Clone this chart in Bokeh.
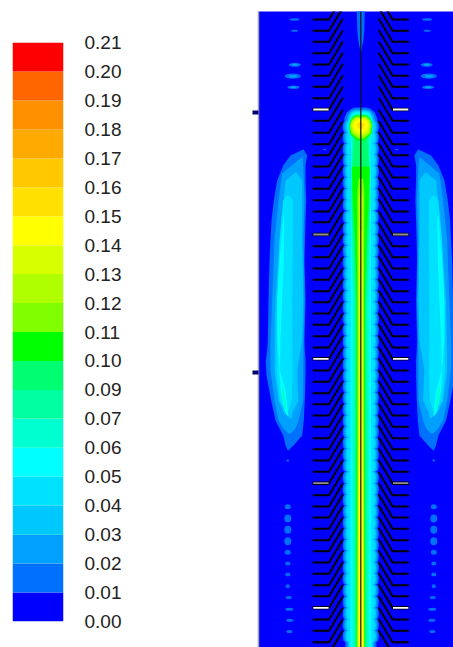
from bokeh.plotting import figure
from bokeh.layouts import row
from bokeh.models import FixedTicker, Range1d
from bokeh.embed import file_html
from bokeh.resources import INLINE

# ---- colour bar ----
band_colors = ["#0000ff", "#0070ff", "#00a0ff", "#00c8ff", "#00e0ff", "#00ffff", "#00ffd0",
               "#00ffa0", "#00ff70", "#00ff00", "#80ff00", "#b0ff00", "#d8ff00", "#ffff00",
               "#ffe000", "#ffc800", "#ffaa00", "#ff9000", "#ff6600", "#ff0000"]
band_labels = ["0.00", "0.01", "0.02", "0.03", "0.04", "0.05", "0.06", "0.07", "0.09", "0.10",
               "0.11", "0.12", "0.13", "0.14", "0.15", "0.16", "0.17", "0.18", "0.19", "0.20", "0.21"]

# ---- structure rows (axial position of each fin) ----
fin_rows = [8, 19, 30.3, 41.3, 52.7, 64, 75.3, 86.3, 97.7, 109, 120.3, 132.3, 143.7, 154.7, 166, 177,
            188.3, 199.7, 211, 221.7, 234, 245.7, 256.7, 268, 279.3, 290.7, 301.7, 313, 324.3,
            335.7, 347, 358.3, 370, 381.3, 392.7, 403.7, 415, 426.3, 437.7, 448.7, 460, 471.3,
            482.7, 494.7, 506, 517, 528.3, 539.7, 550.7, 562, 573.3, 584.7, 595.7, 607.3, 619,
            630.3, 641.7, 653]
white_rows = [109, 358.3, 607.3]
gray_rows = [234, 482.7]
marker_ticks = [112.3, 371.7]

# ---- central plume: (axial position, half width) for each contour level ----
plume_y = {
    1: [107, 108, 112, 118, 135, 160, 650],
    2: [109, 110, 114, 120, 160, 650],
    3: [110, 111, 116, 122, 160, 650],
    4: [111, 112, 118, 124, 160, 650],
    5: [112, 114, 119, 126, 150, 200, 650],
    6: [113, 115, 120, 130, 145, 180, 300, 650],
    7: [114, 116, 120, 130, 140, 160, 200, 300, 650],
    8: [114.5, 117, 121, 132, 138, 165, 200, 300, 650],
}
plume_w = {
    1: [5, 9, 14, 16.5, 15, 15, 15.5],
    2: [5, 9, 13, 14.5, 13.5, 13.5],
    3: [5, 9, 12, 13, 12.2, 12.5],
    4: [5, 9, 11.5, 12, 10.5, 11.5],
    5: [5, 9, 11, 11.5, 9.5, 10, 10.5],
    6: [5, 9, 11, 11.5, 9, 10, 8.5, 8.5],
    7: [5, 9, 11, 11.5, 8, 8.5, 9.5, 6.5, 6.5],
    8: [5, 9, 11, 11, 6.5, 8.5, 9, 5, 5],
}
scallop_w = {1: 16, 2: 14.6, 3: 13.2, 4: 12}

bulb_y = {
    9: [115, 118, 125, 133, 140],
    10: [116, 119, 125, 133, 138],
    11: [117, 120, 125, 132, 136],
    12: [118, 120.5, 125, 131, 134],
    13: [119, 121, 125, 130, 132],
    14: [122, 124, 128],
}
bulb_w = {
    9: [5, 9, 11.5, 10.5, 4],
    10: [5, 9, 11, 9.5, 3],
    11: [5, 8.5, 10, 8.5, 3],
    12: [4, 7.5, 9, 7.5, 3],
    13: [3, 6.5, 7.5, 6, 2],
    14: [2, 4, 2],
}
shaft_y = {
    9: [166, 167, 200, 240, 300, 650],
    10: [178, 190, 230, 300, 650],
    11: [190, 200, 300, 650],
    12: [230, 300, 500, 650],
    13: [400, 500, 650],
}
shaft_w = {
    9: [8, 9, 8, 5.5, 4, 4],
    10: [2, 3.5, 3.5, 3.2, 3.4],
    11: [1, 2.5, 2.5, 3],
    12: [1.5, 2, 2.5, 3],
    13: [1, 2, 2.8],
}

# ---- side lobes: axial position, outer and inner distance from the axis ----
lobe_y = {
    1: [149, 155, 165, 180, 200, 220, 260, 300, 340, 350, 360, 375, 400, 420, 435, 445, 450],
    2: [157, 173, 200, 240, 300, 340, 370, 400, 420, 428, 433],
    3: [172, 180, 200, 240, 300, 340, 370, 400, 413, 418],
    4: [195, 200, 240, 300, 340, 370, 400, 412],
    5: [215, 260, 300, 340, 370, 390, 410, 415],
    6: [385, 395, 407, 411],
}
lobe_outer = {
    1: [57.6, 70.3, 77.6, 83.6, 87, 89.3, 91.3, 92.3, 93, 93.6, 95, 94.3, 89.6, 85.3, 77.6, 75.3, 73],
    2: [59.3, 78.6, 82.3, 86.3, 88.6, 90.3, 90.3, 86.3, 82.3, 77.3, 72.3],
    3: [65.3, 75.3, 77.3, 81, 85.3, 86, 86.3, 82.3, 76.3, 70],
    4: [74, 77.6, 81.3, 83.6, 83.6, 84.3, 81, 74],
    5: [77.5, 81.3, 83.6, 83.6, 81.3, 80.3, 76.3, 73.5],
    6: [78.8, 79.3, 76.3, 74],
}
lobe_inner = {
    1: [57.3, 53.6, 55.3, 55.3, 54.6, 55.3, 56.3, 55.3, 56.3, 56, 55.3, 55.3, 56, 57, 58.6, 67.3, 72.5],
    2: [58.3, 57.3, 56.3, 57.3, 56.3, 57.3, 57.6, 57.6, 62.3, 65.3, 70.3],
    3: [64.3, 58.6, 58.6, 58.6, 57.6, 58.6, 63.6, 62.3, 68.6, 69],
    4: [72, 68, 68, 68.5, 68.5, 68, 69, 73],
    5: [76.5, 77, 78.6, 80.3, 80.8, 75.3, 73, 72.5],
    6: [78, 76.3, 74.3, 73.5],
}

# ---- small isolated spots: axial position, distance from axis, half sizes ----
spot_y = [19, 30.3, 64.3, 75.7, 86.7, 149, 460, 506.3, 518, 529.3, 540.7, 551.7, 563, 574, 585.7, 597, 608.7, 619.7, 631]
spot_x = [66.3, 66.3, 66, 68, 67.3, 36, 73, 73, 73, 73, 73, 73, 73, 73, 73, 72, 71.5, 71, 71.5]
spot_w = [5, 3.5, 6, 8, 6, 1.5, 1.5, 3, 3.5, 3.5, 3.5, 3, 2.5, 2.5, 2, 3, 4, 3.5, 3]
spot_h = [1.2, 1, 2, 2.6, 1.8, 0.8, 1, 2.5, 4, 4, 4, 2.5, 2, 2, 2, 1.5, 1.5, 1.5, 1.5]

streak_y = [10, 30, 40, 51]
streak_w = [4, 3.5, 2.5, 0.4]

# ================= colour bar figure =================
bar = figure(frame_width=51, frame_height=579, frame_align=False,
             x_range=Range1d(0, 1), y_range=Range1d(0, 20),
             x_axis_location=None, y_axis_location="right",
             min_border_left=12, min_border_right=189, min_border_top=42, min_border_bottom=26,
             toolbar_location=None, output_backend="svg")
bar.grid.visible = False
bar.outline_line_color = None
idx = list(range(len(band_colors)))
bar.quad(left=0, right=1, bottom=idx, top=[i + 1 for i in idx], fill_color=band_colors, line_color=None)
ax = bar.yaxis[0]
ax.ticker = FixedTicker(ticks=list(range(len(band_labels))))
ax.major_label_overrides = {i: s for i, s in enumerate(band_labels)}
ax.axis_line_color = None
ax.major_tick_line_color = None
ax.minor_tick_line_color = None
ax.major_tick_out = 0
ax.major_tick_in = 0
ax.major_label_standoff = 21
ax.major_label_text_font = "Liberation Sans"
ax.major_label_text_font_size = "19px"
ax.major_label_text_color = "#222222"

# ================= map figure =================
CENTER = 102.3
m = figure(frame_width=195, frame_height=636, frame_align=False,
           x_range=Range1d(-CENTER, 195 - CENTER), y_range=Range1d(647, 11),
           x_axis_location=None, y_axis_location="left",
           min_border_left=6, min_border_right=0, min_border_top=11, min_border_bottom=0,
           toolbar_location=None, output_backend="svg", background_fill_color=band_colors[0])
m.grid.visible = False
m.outline_line_color = None
a = m.yaxis[0]
a.ticker = FixedTicker(ticks=marker_ticks)
a.major_label_overrides = {t: "" for t in marker_ticks}
a.major_label_text_font_size = "0px"
a.major_label_standoff = 0
a.major_tick_out = 6
a.major_tick_in = 0
a.major_tick_line_width = 4
a.major_tick_line_color = "#000070"
a.minor_tick_line_color = None
a.axis_line_color = "#a0a0a0"
a.axis_line_width = 1.5


def mirrored(ys, ws):
    return list(ws) + [-w for w in reversed(ws)], list(ys) + list(reversed(ys))


# spots
for sign in (-1, 1):
    m.ellipse(x=[sign * v for v in spot_x], y=spot_y, width=[2 * v for v in spot_w],
              height=[2 * v for v in spot_h], fill_color=band_colors[1], line_color=None)
    m.ellipse(x=[sign * v for v in spot_x[2:5]], y=spot_y[2:5], width=[v for v in spot_w[2:5]],
              height=[v for v in spot_h[2:5]], fill_color=band_colors[2], line_color=None)
xs, ys = mirrored(streak_y, streak_w)
m.patch(xs, ys, fill_color=band_colors[1], line_color=None)

# lobes
for lev in sorted(lobe_y):
    for sign in (-1, 1):
        xs = [sign * v for v in lobe_outer[lev]] + [sign * v for v in reversed(lobe_inner[lev])]
        ys = lobe_y[lev] + list(reversed(lobe_y[lev]))
        m.patch(xs, ys, fill_color=band_colors[lev], line_color=None)

# plume
scallop_rows = [r - 17.4 for r in fin_rows if r - 17.4 > 116]
for lev in sorted(plume_y):
    if lev in scallop_w:
        for sign in (-1, 1):
            m.ellipse(x=[sign * scallop_w[lev]] * len(scallop_rows), y=scallop_rows, width=4, height=11.5,
                      fill_color=band_colors[lev], line_color=None)
    xs, ys = mirrored(plume_y[lev], plume_w[lev])
    m.patch(xs, ys, fill_color=band_colors[lev], line_color=None)
for lev in sorted(bulb_y):
    xs, ys = mirrored(bulb_y[lev], bulb_w[lev])
    m.patch(xs, ys, fill_color=band_colors[lev], line_color=None)
for lev in sorted(shaft_y):
    xs, ys = mirrored(shaft_y[lev], shaft_w[lev])
    m.patch(xs, ys, fill_color=band_colors[lev], line_color=None)

# fins
FIN_OUT, FIN_ELBOW, FIN_TIP, FIN_RISE = 48, 31.7, 18, 23
fx, fy = [], []
for r in fin_rows:
    for sign in (-1, 1):
        fx.append([sign * FIN_OUT, sign * FIN_ELBOW, sign * FIN_TIP])
        fy.append([r, r, r - FIN_RISE])
m.multi_line(fx, fy, line_color="black", line_width=2)
for rows_, color in ((white_rows, "white"), (gray_rows, "#909090")):
    for r in rows_:
        for sign in (-1, 1):
            m.line([sign * FIN_OUT, sign * FIN_ELBOW], [r, r], line_color="black", line_width=3.4)
            m.line([sign * (FIN_OUT - 0.5), sign * (FIN_ELBOW + 0.5)], [r, r], line_color=color, line_width=1.8)

# axis wire
m.line([0, 0], [11, 647], line_color="#101010", line_width=1.2)

page = row(bar, m, spacing=0)
open("out.html", "w").write(file_html(page, INLINE))
